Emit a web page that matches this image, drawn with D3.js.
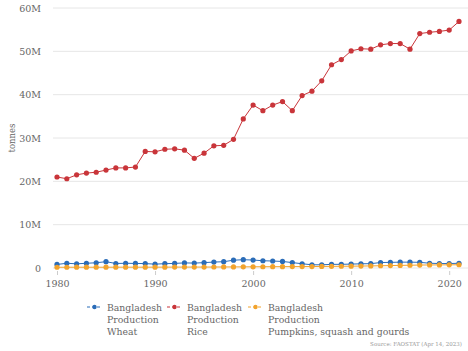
<!DOCTYPE html>
<html>
<head>
<meta charset="utf-8">
<script src="https://cdn.jsdelivr.net/npm/d3@7"></script>
<style>
  body { margin: 0; background: #fff; }
  svg { display: block; }
</style>
</head>
<body>
<div id="chart"></div>
<script>
// Bangladesh production, tonnes (FAOSTAT), 1980–2021
const years = d3.range(1980, 2022);

const wheat = [
  0.82, 1.09, 0.97, 1.09, 1.21, 1.46, 1.04, 1.09, 1.05, 1.02,
  0.89, 1.00, 1.06, 1.18, 1.13, 1.24, 1.37, 1.45, 1.80, 1.91,
  1.84, 1.67, 1.61, 1.51, 1.25, 0.98, 0.74, 0.74, 0.84, 0.85,
  0.90, 0.97, 1.00, 1.26, 1.30, 1.35, 1.35, 1.31, 1.10, 1.03,
  1.03, 1.09
];

const rice = [
  21.0, 20.6, 21.5, 21.9, 22.1, 22.6, 23.1, 23.1, 23.3, 26.9,
  26.8, 27.4, 27.5, 27.2, 25.3, 26.5, 28.2, 28.3, 29.7, 34.4,
  37.6, 36.3, 37.6, 38.4, 36.3, 39.8, 40.8, 43.2, 46.9, 48.1,
  50.1, 50.6, 50.5, 51.5, 51.8, 51.8, 50.5, 54.1, 54.4, 54.6,
  54.9, 56.9
];

const pumpkins = [
  0.17, 0.17, 0.18, 0.18, 0.18, 0.18, 0.19, 0.19, 0.19, 0.19,
  0.20, 0.20, 0.21, 0.21, 0.22, 0.22, 0.23, 0.24, 0.25, 0.26,
  0.28, 0.29, 0.30, 0.31, 0.32, 0.33, 0.34, 0.36, 0.38, 0.40,
  0.42, 0.45, 0.48, 0.52, 0.56, 0.60, 0.64, 0.68, 0.70, 0.72,
  0.73, 0.75
];

const seriesNames = [
  ["Bangladesh", "Production", "Wheat"],
  ["Bangladesh", "Production", "Rice"],
  ["Bangladesh", "Production", "Pumpkins, squash and gourds"]
];
const seriesColors = ["#2a6cb8", "#c9353a", "#f2a32c"];
const seriesValues = [wheat, rice, pumpkins];

const yTicks = [0, 10, 20, 30, 40, 50, 60];
const xTicks = [1980, 1990, 2000, 2010, 2020];

const W = 468, H = 351;
const margin = { top: 8, right: 9, bottom: 83, left: 57 };

const svg = d3.select("#chart").append("svg")
  .attr("width", W).attr("height", H);

const x = d3.scaleLinear().domain([1980, 2021])
  .range([margin.left, W - margin.right]);
const y = d3.scaleLinear().domain([0, 60])
  .range([H - margin.bottom, margin.top]);

// gridlines
svg.append("g")
  .selectAll("line")
  .data(yTicks)
  .join("line")
  .attr("x1", 53).attr("x2", W)
  .attr("y1", d => y(d)).attr("y2", d => y(d))
  .attr("stroke", "#e6e6e6").attr("stroke-width", 1);

// y axis labels
const yAxis = svg.append("g")
  .attr("transform", `translate(53,0)`)
  .call(d3.axisLeft(y).tickValues(yTicks).tickSize(0).tickPadding(12)
    .tickFormat(d => d === 0 ? "0" : d + "M"));
yAxis.select(".domain").remove();
yAxis.selectAll("text")
  .attr("font-family", "DejaVu Serif").attr("font-size", 9.5).attr("fill", "#666");

svg.append("text")
  .attr("transform", `translate(15,${y(30)}) rotate(-90)`)
  .attr("text-anchor", "middle")
  .attr("font-family", "DejaVu Serif").attr("font-size", 8.5).attr("fill", "#666")
  .text("tonnes");

// x axis
const xAxis = svg.append("g")
  .attr("transform", `translate(0,${y(0) + 3})`)
  .call(d3.axisBottom(x).tickValues(xTicks).tickFormat(d3.format("d"))
    .tickSize(4).tickPadding(5));
xAxis.select(".domain").remove();
xAxis.selectAll("line").attr("stroke", "#ccc");
xAxis.selectAll("text")
  .attr("font-family", "DejaVu Serif").attr("font-size", 9.5).attr("fill", "#666");

// series
const line = d3.line().x((d, i) => x(years[i])).y(d => y(d));

seriesValues.forEach((vals, k) => {
  const g = svg.append("g");
  g.append("path")
    .datum(vals)
    .attr("d", line)
    .attr("fill", "none")
    .attr("stroke", seriesColors[k])
    .attr("stroke-width", 1);
  g.selectAll("circle")
    .data(vals)
    .join("circle")
    .attr("cx", (d, i) => x(years[i]))
    .attr("cy", d => y(d))
    .attr("r", 2.6)
    .attr("fill", seriesColors[k]);
});

// legend
const legendX = [87, 167, 248];
seriesNames.forEach((lines, k) => {
  const g = svg.append("g").attr("transform", `translate(${legendX[k]},307)`);
  g.append("line")
    .attr("x1", 0).attr("x2", 15).attr("y1", 0).attr("y2", 0)
    .attr("stroke", seriesColors[k]).attr("stroke-width", 1)
    .attr("stroke-dasharray", "3,2");
  g.append("circle").attr("cx", 7.5).attr("cy", 0).attr("r", 2.2)
    .attr("fill", seriesColors[k]);
  const t = g.append("text")
    .attr("x", 20).attr("y", 3.5)
    .attr("font-family", "DejaVu Serif").attr("font-size", 9.3).attr("fill", "#666");
  lines.forEach((s, i) => {
    t.append("tspan").attr("x", 20).attr("dy", i === 0 ? 0 : 12).text(s);
  });
});

svg.append("text")
  .attr("x", 462).attr("y", 346)
  .attr("text-anchor", "end")
  .attr("font-family", "DejaVu Serif").attr("font-size", 5.5).attr("fill", "#999")
  .text("Source: FAOSTAT (Apr 14, 2023)");
</script>
</body>
</html>
